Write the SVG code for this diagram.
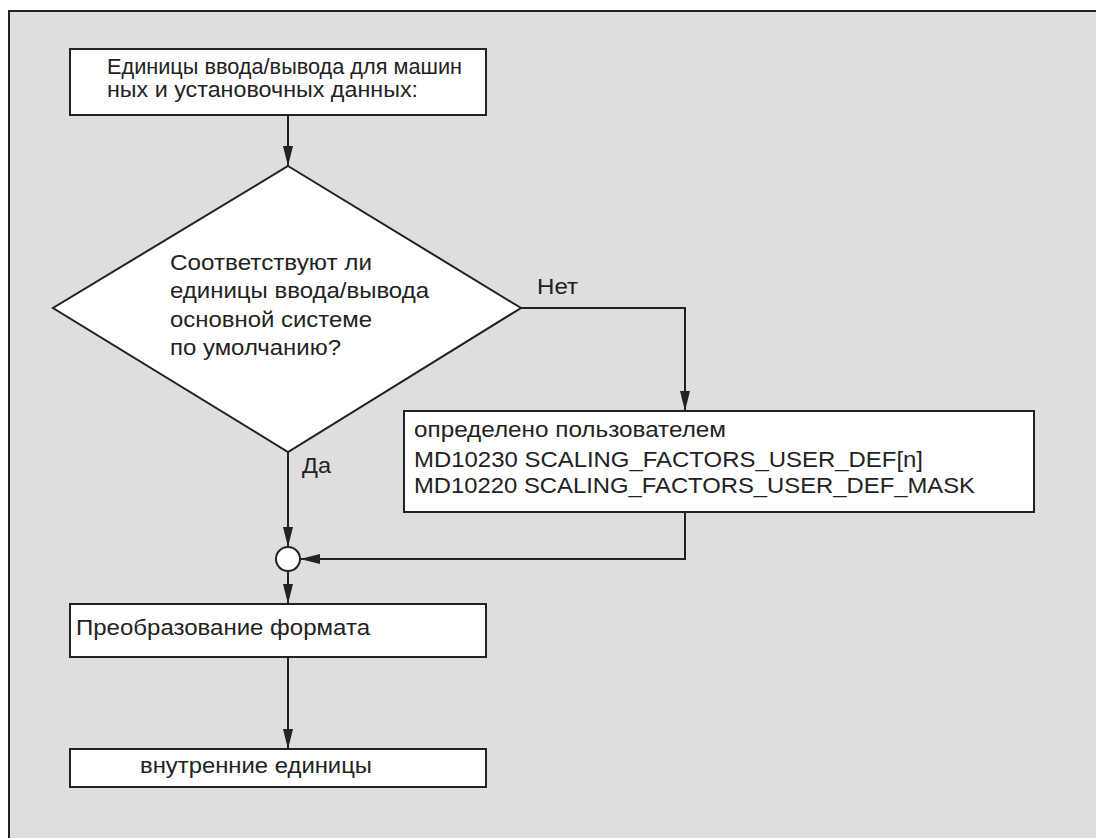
<svg xmlns="http://www.w3.org/2000/svg" width="1096" height="838" viewBox="0 0 1096 838">
  <style>
    .frame { fill: #dedede; stroke: #222; stroke-width: 2; }
    .node { fill: #fff; stroke: #222; stroke-width: 2; }
    .edge { fill: none; stroke: #222; stroke-width: 2; }
    text { font-family: "Liberation Sans", Arial, sans-serif; font-size: 22px; fill: #222; }
  </style>
  <defs>
    <marker id="arrow" viewBox="0 0 20 10" refX="20" refY="5" markerWidth="20" markerHeight="10" markerUnits="userSpaceOnUse" orient="auto">
      <path d="M0,0 L20,5 L0,10 Z" fill="#222"/>
    </marker>
  </defs>

  <rect width="1096" height="838" fill="#fff"/>
  <rect class="frame" x="9" y="11" width="1100" height="840"/>

  <g id="connectors">
    <line class="edge" x1="288" y1="115" x2="288" y2="166" marker-end="url(#arrow)"/>
    <polyline class="edge" points="521,308 685,308 685,411" marker-end="url(#arrow)"/>
    <line class="edge" x1="288" y1="452" x2="288" y2="547" marker-end="url(#arrow)"/>
    <polyline class="edge" points="685,512 685,559 300,559" marker-end="url(#arrow)"/>
    <line class="edge" x1="288" y1="571" x2="288" y2="604" marker-end="url(#arrow)"/>
    <line class="edge" x1="288" y1="657" x2="288" y2="749" marker-end="url(#arrow)"/>
    <text x="537" y="294" textLength="41" lengthAdjust="spacingAndGlyphs">Нет</text>
    <text x="302" y="473" textLength="29" lengthAdjust="spacingAndGlyphs">Да</text>
  </g>

  <g id="input-units">
    <rect class="node" x="70" y="49" width="416" height="66"/>
    <text x="107" y="74" textLength="355" lengthAdjust="spacingAndGlyphs">Единицы ввода/вывода для машин</text>
    <text x="107" y="97" textLength="311" lengthAdjust="spacingAndGlyphs">ных и установочных данных:</text>
  </g>

  <g id="decision">
    <polygon class="node" points="288,166 521,308 288,452 53,308"/>
    <text x="170" y="270" textLength="202" lengthAdjust="spacingAndGlyphs">Соответствуют ли</text>
    <text x="170" y="298" textLength="259" lengthAdjust="spacingAndGlyphs">единицы ввода/вывода</text>
    <text x="170" y="327" textLength="202" lengthAdjust="spacingAndGlyphs">основной системе</text>
    <text x="170" y="355" textLength="171" lengthAdjust="spacingAndGlyphs">по умолчанию?</text>
  </g>

  <g id="user-defined">
    <rect class="node" x="404" y="411" width="630" height="101"/>
    <text x="414" y="437" textLength="312" lengthAdjust="spacingAndGlyphs">определено пользователем</text>
    <text x="414" y="467" textLength="509" lengthAdjust="spacingAndGlyphs">MD10230 SCALING_FACTORS_USER_DEF[n]</text>
    <text x="414" y="493" textLength="561" lengthAdjust="spacingAndGlyphs">MD10220 SCALING_FACTORS_USER_DEF_MASK</text>
  </g>

  <g id="junction">
    <circle class="node" cx="288" cy="559" r="12"/>
  </g>

  <g id="format-conversion">
    <rect class="node" x="70" y="604" width="416" height="53"/>
    <text x="76" y="635" textLength="294" lengthAdjust="spacingAndGlyphs">Преобразование формата</text>
  </g>

  <g id="internal-units">
    <rect class="node" x="70" y="749" width="416" height="38"/>
    <text x="140" y="773" textLength="232" lengthAdjust="spacingAndGlyphs">внутренние единицы</text>
  </g>
</svg>
